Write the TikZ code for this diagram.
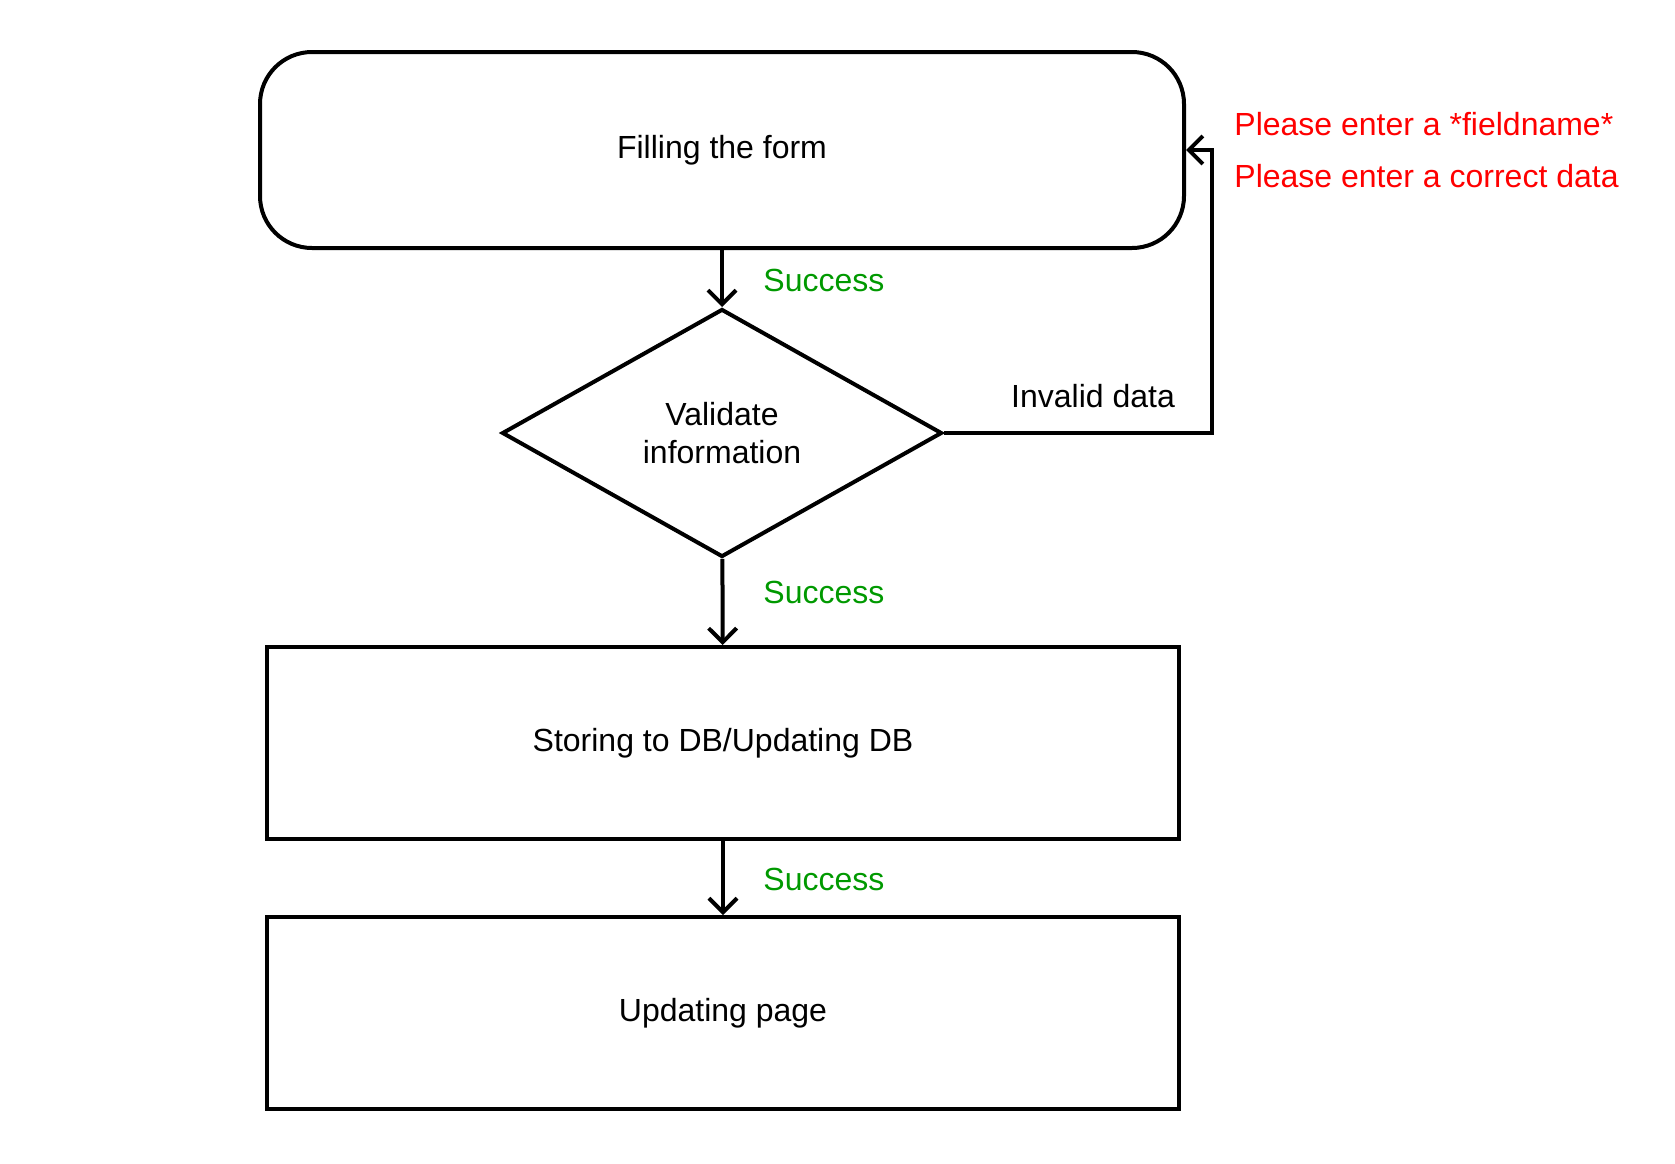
\documentclass[tikz,border=0pt]{standalone}
\usepackage{fontspec}
\setmainfont{Liberation Sans}
\usetikzlibrary{shapes.geometric,arrows.meta}
\definecolor{okgreen}{RGB}{0,153,0}
\tikzset{
  box/.style={draw, line width=2pt, minimum width=456pt, minimum height=96pt, inner sep=0pt},
  arr/.style={line width=2pt, -{Straight Barb[length=7pt,width=14pt,line width=2pt]}},
  ok/.style={text=okgreen, anchor=west, inner sep=0pt}
}
\begin{document}
\begin{tikzpicture}[x=0.5pt,y=-0.5pt,font=\fontsize{16}{19}\selectfont]
  \useasboundingbox (0,0) rectangle (1675,1163);
  \node[box, rounded corners=26pt, minimum width=462pt, minimum height=98pt] (form) at (722,150) {Filling the form};
  \node[diamond, draw, line width=2pt, aspect=1.77, minimum width=220pt, minimum height=124pt, inner sep=0pt, align=center] (check) at (722,433) {Validate\\information};
  \node[box] (store) at (723,743) {Storing to DB/Updating DB};
  \node[box] (page) at (723,1013) {Updating page};
  \coordinate (bend) at (1212,433);
  \draw[arr] (form) -- (check);
  \draw[arr] (check) -- (store);
  \draw[arr] (store) -- (page);
  \draw[arr] (check.east) -- (bend) |- (form.east);
  \node[ok] (ok1) at (763,280) {Success};
  \node[ok] (ok2) at (763,592) {Success};
  \node[ok] (ok3) at (763,879) {Success};
  \node (invalid) at (1093,396) {Invalid data};
  \node[text=red, anchor=west, inner sep=0pt, align=left, font=\fontsize{16}{26}\selectfont] (msg) at (1234,150) {Please enter a *fieldname*\\Please enter a correct data};
\end{tikzpicture}
\end{document}
